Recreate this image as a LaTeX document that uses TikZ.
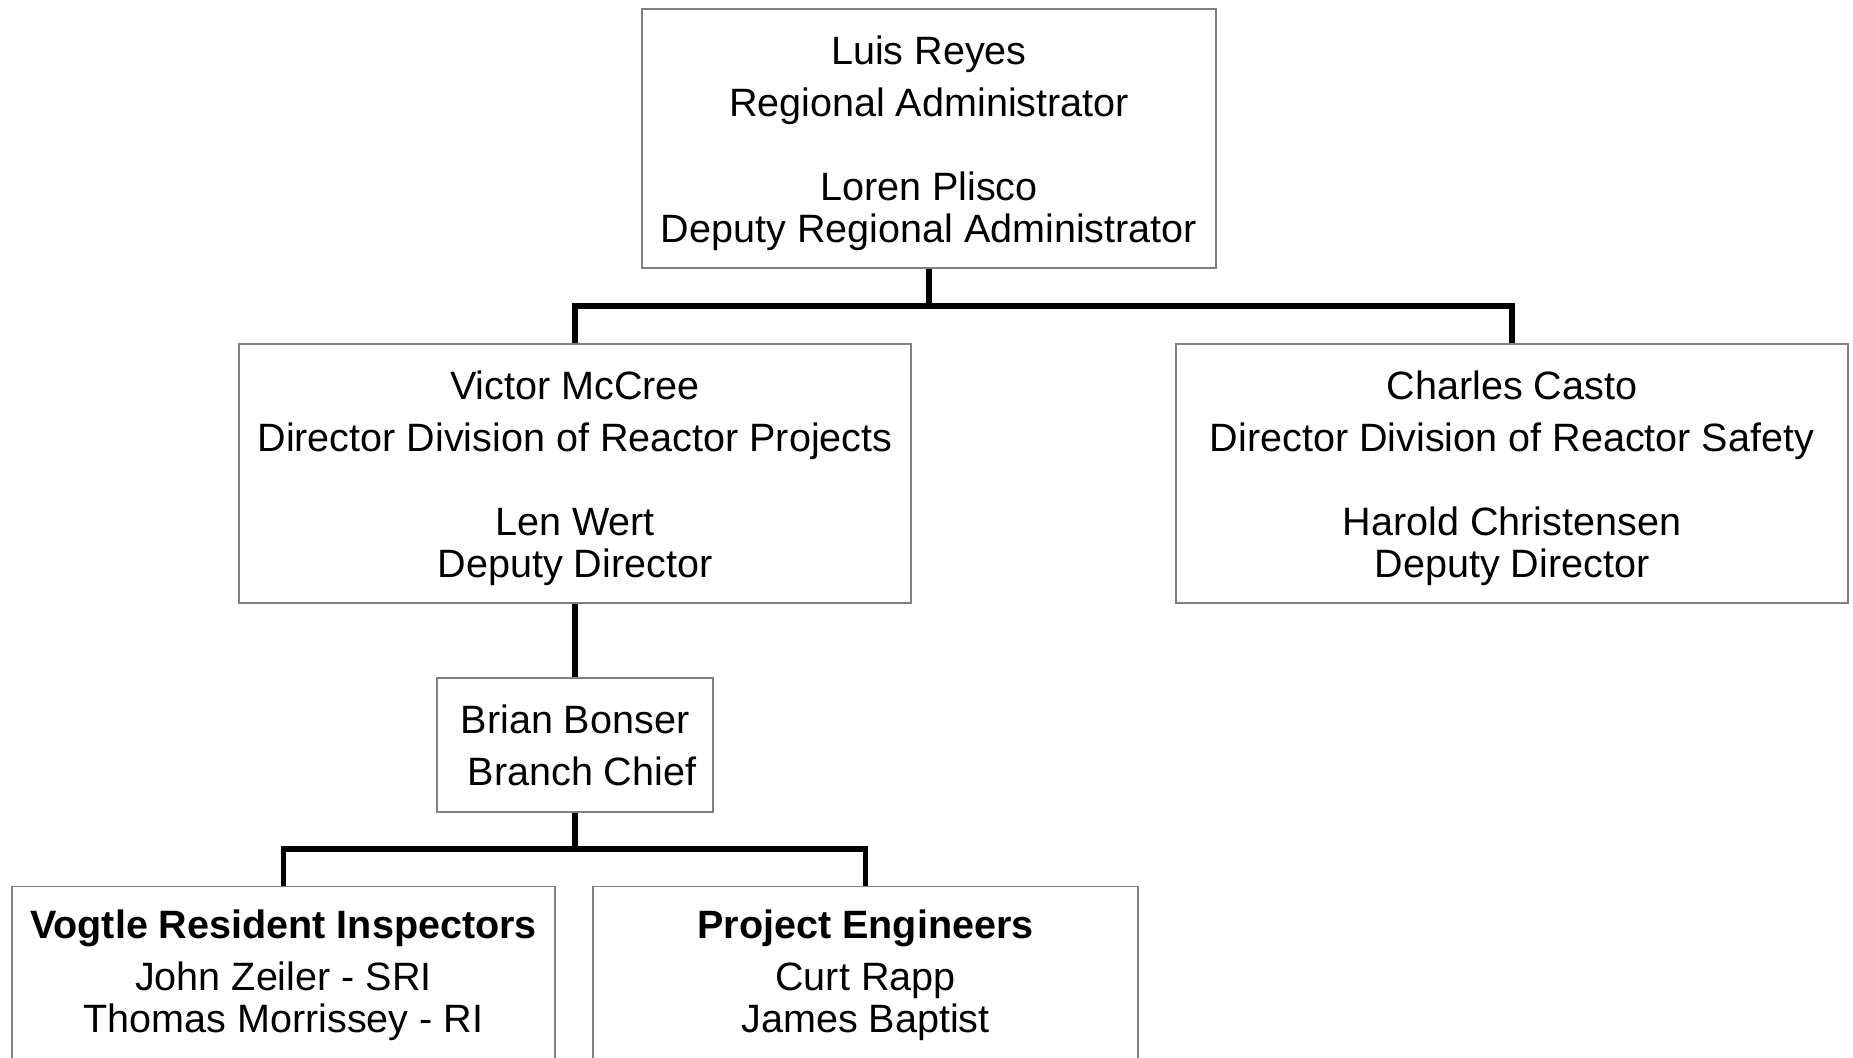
\documentclass[tikz,border=0pt]{standalone}
\usepackage{fontspec}
\setmainfont{Liberation Sans}
\usepackage{tikz}
\usetikzlibrary{positioning}
\usetikzlibrary{calc}

\begin{document}
\begin{tikzpicture}
% définition des paramètres
\tikzstyle boiteorg=[draw=black!50,line width=0.6pt,fill=white,align=center,inner sep=0pt,font=\fontsize{22.5}{24}\selectfont]
\tikzstyle lienorg=[color=black,line width=3.4pt,line join=miter]
\newcommand{\largeurpage}{37.06} % largeur de l'image
\newcommand{\hauteurpage}{21.16} % et sa hauteur
\newcommand{\barrehaut}{-6.12}   % ordonnée de la barre du haut
\newcommand{\barrebas}{-16.98}   % ordonnée de la barre du bas
\newcommand{\cale}{\rule{0pt}{22pt}} % pour descendre un peu le texte
\useasboundingbox (0,0) rectangle (\largeurpage,-\hauteurpage);
\clip (0,0) rectangle (\largeurpage,-\hauteurpage);
\coordinate (niveauhaut) at (0,\barrehaut);
\coordinate (niveaubas) at (0,\barrebas);
% les boîtes
\node[boiteorg,minimum width=11.48cm,minimum height=5.18cm] (reyes) at (18.58,-2.77)
  {\cale Luis Reyes\\[5.5pt] Regional Administrator\\[24pt] Loren Plisco\\ Deputy Regional Administrator};
\node[boiteorg,minimum width=13.44cm,minimum height=5.18cm] (mccree) at (11.5,-9.47)
  {\cale Victor McCree\\[5.5pt] Director Division of Reactor Projects\\[24pt] Len Wert\\ Deputy Director};
\node[boiteorg,minimum width=13.44cm,minimum height=5.18cm] (casto) at (30.24,-9.47)
  {\cale Charles Casto\\[5.5pt] Director Division of Reactor Safety\\[24pt] Harold Christensen\\ Deputy Director};
\node[boiteorg,minimum width=5.52cm,minimum height=2.68cm] (bonser) at (11.5,-14.9)
  {Brian Bonser\\[5.5pt] \hspace{8pt}Branch Chief};
\node[boiteorg,minimum width=10.86cm,minimum height=3.56cm,anchor=north] (zeiler) at (5.67,-17.72)
  {\textbf{Vogtle Resident Inspectors}\\[5.5pt] John Zeiler - SRI\\ Thomas Morrissey - RI};
\node[boiteorg,minimum width=10.9cm,minimum height=3.56cm,anchor=north] (rapp) at (17.31,-17.72)
  {\textbf{Project Engineers}\\[5.5pt] Curt Rapp\\ James Baptist};
% les liens
\draw[lienorg] (reyes.south) -- (reyes.south |- niveauhaut);
\draw[lienorg] (mccree.north) |- (reyes.south |- niveauhaut) -| (casto.north);
\draw[lienorg] (mccree.south) -- (bonser.north);
\draw[lienorg] (bonser.south) -- (bonser.south |- niveaubas);
\draw[lienorg] (zeiler.north) |- (bonser.south |- niveaubas) -| (rapp.north);
\end{tikzpicture}
\end{document}
